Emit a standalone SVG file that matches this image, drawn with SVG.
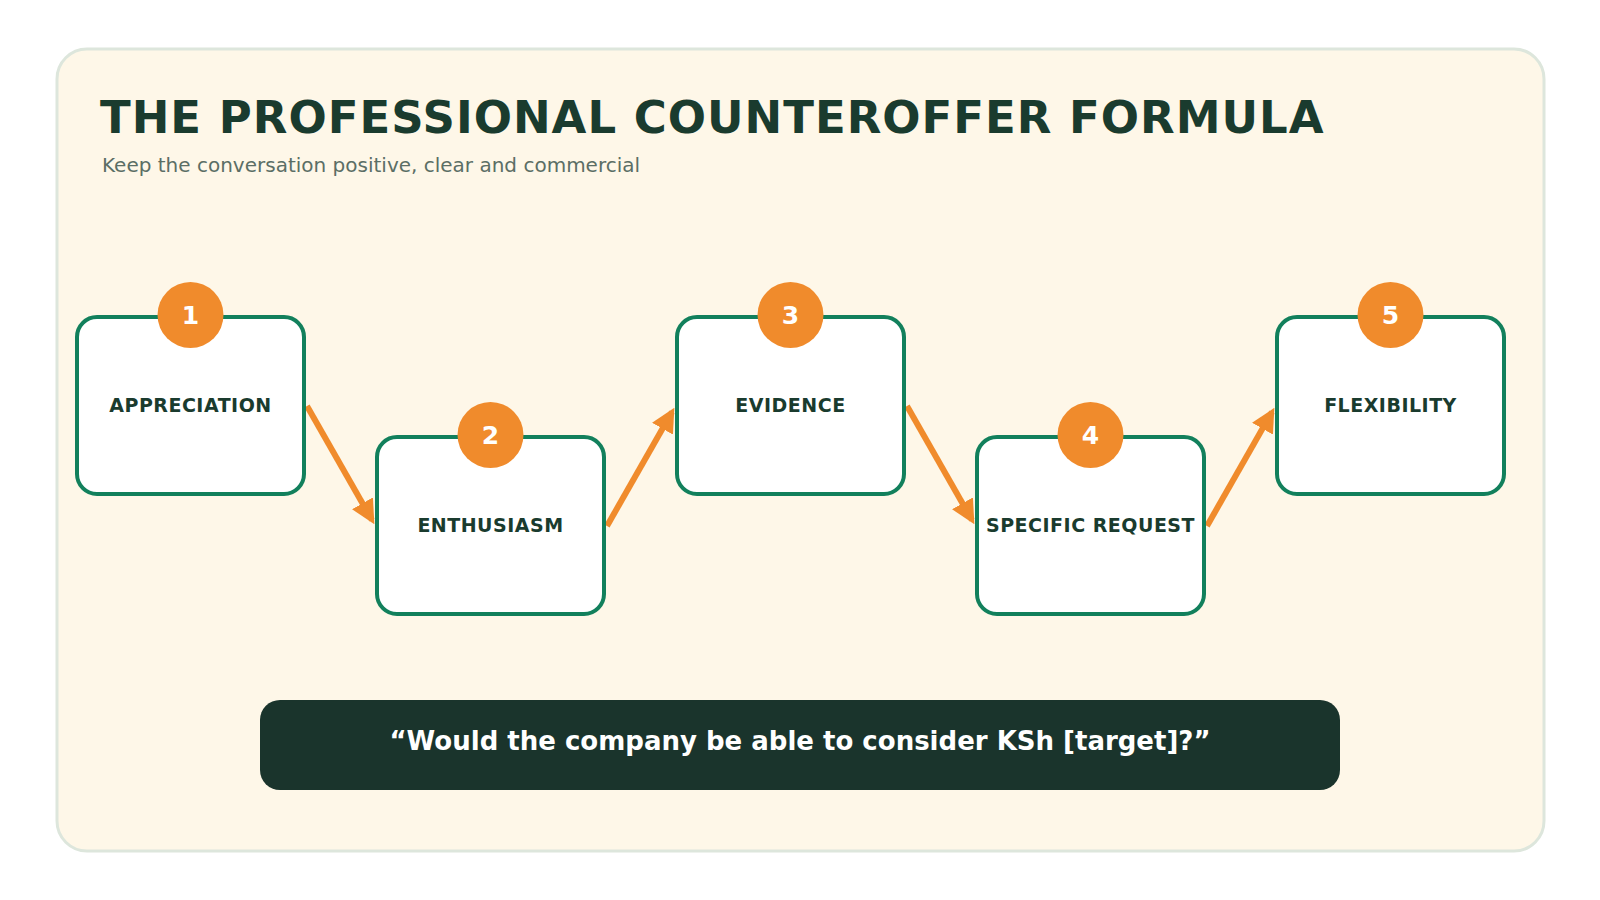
<svg xmlns="http://www.w3.org/2000/svg" width="1600" height="900" viewBox="0 0 1600 900">
<style>
text{font-family:"DejaVu Sans",sans-serif}
.box{fill:#fff;stroke:#12805c;stroke-width:4}
.num{fill:#f08b2c}
.nt{fill:#fff;font-size:25px;font-weight:bold;text-anchor:middle}
.lb{fill:#1a3b2e;font-size:19px;font-weight:bold;text-anchor:middle;letter-spacing:0.5px}
.ar{stroke:#f08b2c;stroke-width:6;fill:none;marker-end:url(#ah)}
</style>
<defs><marker id="ah" viewBox="0 0 10 10" refX="8" refY="5" markerWidth="4" markerHeight="4" orient="auto" markerUnits="strokeWidth"><path d="M0,0L10,5L0,10z" fill="#f08b2c"/></marker></defs>
<rect width="1600" height="900" fill="#fff"/>
<rect x="57" y="49" width="1487" height="802" rx="30" fill="#fef7e8" stroke="#dde6dc" stroke-width="3"/>
<text x="100" y="133" font-size="45" font-weight="bold" fill="#1a3b2e" letter-spacing="1">THE PROFESSIONAL COUNTEROFFER FORMULA</text>
<text x="102" y="172" font-size="20" fill="#5b6e65">Keep the conversation positive, clear and commercial</text>
<g id="connectors">
<line class="ar" x1="307" y1="406" x2="372" y2="520"/>
<line class="ar" x1="607" y1="526" x2="672" y2="412"/>
<line class="ar" x1="907" y1="406" x2="972" y2="520"/>
<line class="ar" x1="1207" y1="526" x2="1272" y2="412"/>
</g>
<g id="n1"><rect class="box" x="77" y="317" width="227" height="177" rx="20"/><circle class="num" cx="190.5" cy="315" r="33"/><text class="nt" x="190.5" y="324">1</text><text class="lb" x="190.5" y="412">APPRECIATION</text></g>
<g id="n2"><rect class="box" x="377" y="437" width="227" height="177" rx="20"/><circle class="num" cx="490.5" cy="435" r="33"/><text class="nt" x="490.5" y="444">2</text><text class="lb" x="490.5" y="532">ENTHUSIASM</text></g>
<g id="n3"><rect class="box" x="677" y="317" width="227" height="177" rx="20"/><circle class="num" cx="790.5" cy="315" r="33"/><text class="nt" x="790.5" y="324">3</text><text class="lb" x="790.5" y="412">EVIDENCE</text></g>
<g id="n4"><rect class="box" x="977" y="437" width="227" height="177" rx="20"/><circle class="num" cx="1090.5" cy="435" r="33"/><text class="nt" x="1090.5" y="444">4</text><text class="lb" x="1090.5" y="532">SPECIFIC REQUEST</text></g>
<g id="n5"><rect class="box" x="1277" y="317" width="227" height="177" rx="20"/><circle class="num" cx="1390.5" cy="315" r="33"/><text class="nt" x="1390.5" y="324">5</text><text class="lb" x="1390.5" y="412">FLEXIBILITY</text></g>
<g id="quote"><rect x="260" y="700" width="1080" height="90" rx="20" fill="#1a342c"/><text x="800" y="750" font-size="26" font-weight="bold" fill="#fff" text-anchor="middle">“Would the company be able to consider KSh [target]?”</text></g>
</svg>
